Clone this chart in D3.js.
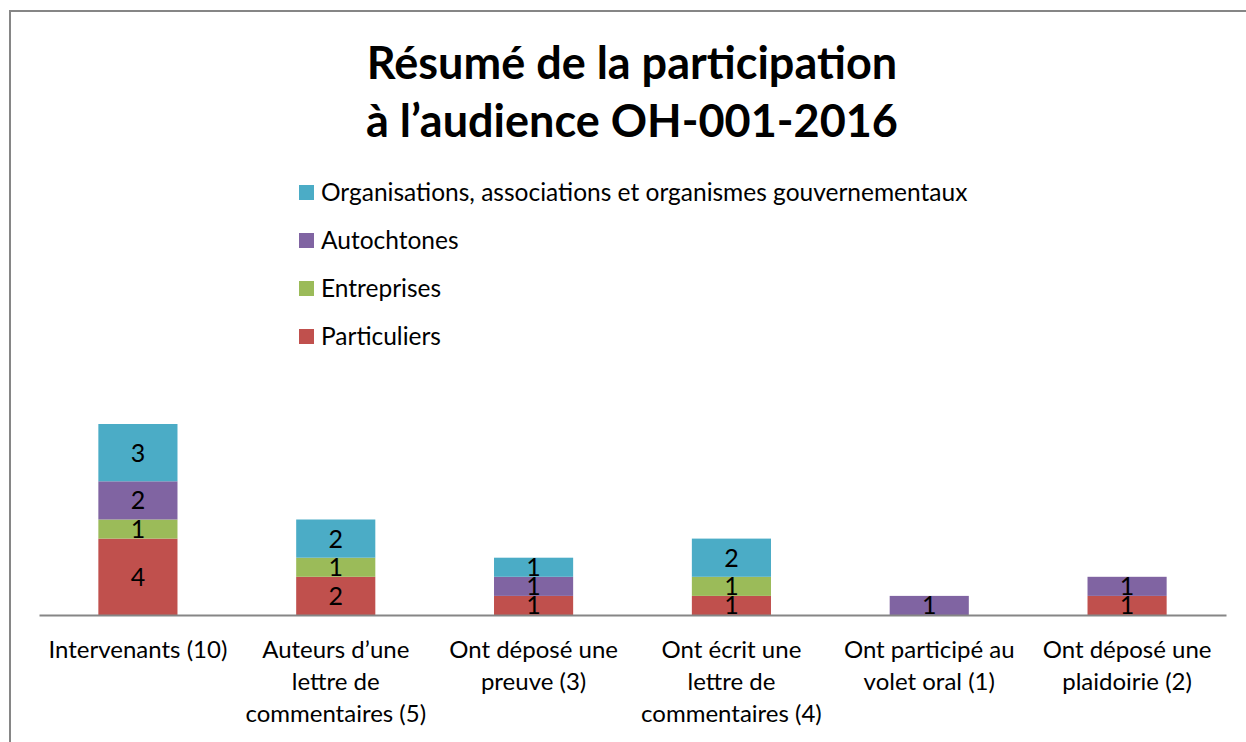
<!DOCTYPE html>
<html>
<head>
<meta charset="utf-8">
<script src="https://cdn.jsdelivr.net/npm/d3@7"></script>
<style>
  body { margin: 0; background: #fff; }
  text { font-family: Lato, "Open Sans", sans-serif; fill: #000; }
</style>
</head>
<body>
<svg id="chart" width="1246" height="742"></svg>
<script>
// data
let categories = [
  'Intervenants (10)',
  'Auteurs d’une lettre de commentaires (5)',
  'Ont déposé une preuve (3)',
  'Ont écrit une lettre de commentaires (4)',
  'Ont participé au volet oral (1)',
  'Ont déposé une plaidoirie (2)'
]
// how the tick labels break over lines
let tickLines = [
  ['Intervenants (10)'],
  ['Auteurs d’une', 'lettre de', 'commentaires (5)'],
  ['Ont déposé une', 'preuve (3)'],
  ['Ont écrit une', 'lettre de', 'commentaires (4)'],
  ['Ont participé au', 'volet oral (1)'],
  ['Ont déposé une', 'plaidoirie (2)']
]
let seriesNames = ['Particuliers', 'Entreprises', 'Autochtones', 'Organisations, associations et organismes gouvernementaux']
let particuliers = [4, 2, 1, 1, 0, 1]
let entreprises = [1, 1, 0, 1, 0, 0]
let autochtones = [2, 0, 1, 0, 1, 1]
let organisations = [3, 2, 1, 2, 0, 0]
let seriesColors = ['#C0504D', '#9BBB59', '#8064A2', '#4BACC6']
let titleLines = ['Résumé de la participation', 'à l’audience OH-001-2016']

let fontSize = 24

let svg = d3.select('#chart')

// outer frame (runs off the right and bottom of the picture)
svg.append('rect')
  .attr('x', 10).attr('y', 11)
  .attr('width', 1260).attr('height', 760)
  .attr('fill', 'none')
  .attr('stroke', '#868686')
  .attr('stroke-width', 2)

svg.append('text')
  .attr('x', 632)
  .attr('text-anchor', 'middle')
  .attr('font-weight', 'bold')
  .attr('font-size', 45)
  .selectAll('tspan')
  .data(titleLines)
  .join('tspan')
  .attr('x', 632)
  .attr('y', (d, i) => 79 + i * 58)
  .text(d => d)

let rows = categories.map((c, i) => ({
  cat: c,
  p: particuliers[i],
  e: entreprises[i],
  a: autochtones[i],
  o: organisations[i]
}))
let keys = ['p', 'e', 'a', 'o']
let stacked = d3.stack().keys(keys)(rows)

let x = d3.scaleBand()
  .domain(categories)
  .range([39, 1226])
  .paddingInner(0.6)
  .paddingOuter(0.3)

let y = d3.scaleLinear()
  .domain([0, 10])
  .range([615, 424])

let layers = svg.append('g').attr('id', 'bars')
  .selectAll('g')
  .data(stacked)
  .join('g')
  .attr('fill', (d, i) => seriesColors[i])

layers.selectAll('rect')
  .data(d => d.filter(s => s[1] > s[0]))
  .join('rect')
  .attr('x', d => x(d.data.cat))
  .attr('y', d => y(d[1]))
  .attr('width', x.bandwidth())
  .attr('height', d => y(d[0]) - y(d[1]))

layers.selectAll('text')
  .data(d => d.filter(s => s[1] > s[0]))
  .join('text')
  .attr('x', d => x(d.data.cat) + x.bandwidth() / 2)
  .attr('y', d => (y(d[0]) + y(d[1])) / 2)
  .attr('dy', '0.36em')
  .attr('text-anchor', 'middle')
  .attr('font-size', 25)
  .text(d => d[1] - d[0])

// category axis
let xAxis = svg.append('g')
  .attr('transform', 'translate(0,615)')
  .call(d3.axisBottom(x).tickSize(0).tickFormat(''))
xAxis.select('.domain').attr('stroke', '#868686').attr('stroke-width', 2)

xAxis.selectAll('.tick').append('text')
  .attr('text-anchor', 'middle')
  .attr('font-size', fontSize)
  .selectAll('tspan')
  .data((d, i) => tickLines[i])
  .join('tspan')
  .attr('x', 0)
  .attr('y', (d, i) => 43 + i * 32)
  .text(d => d)

// legend, top entry is the last series
let legend = svg.append('g').attr('id', 'legend')
  .selectAll('g')
  .data(seriesNames.slice().reverse())
  .join('g')
  .attr('transform', (d, i) => `translate(299, ${192 + i * 48})`)

legend.append('rect')
  .attr('x', 0).attr('y', -7)
  .attr('width', 15).attr('height', 15)
  .attr('fill', (d, i) => seriesColors[3 - i])

legend.append('text')
  .attr('x', 22)
  .attr('dy', '0.36em')
  .attr('font-size', 24.5)
  .text(d => d)
</script>
</body>
</html>
